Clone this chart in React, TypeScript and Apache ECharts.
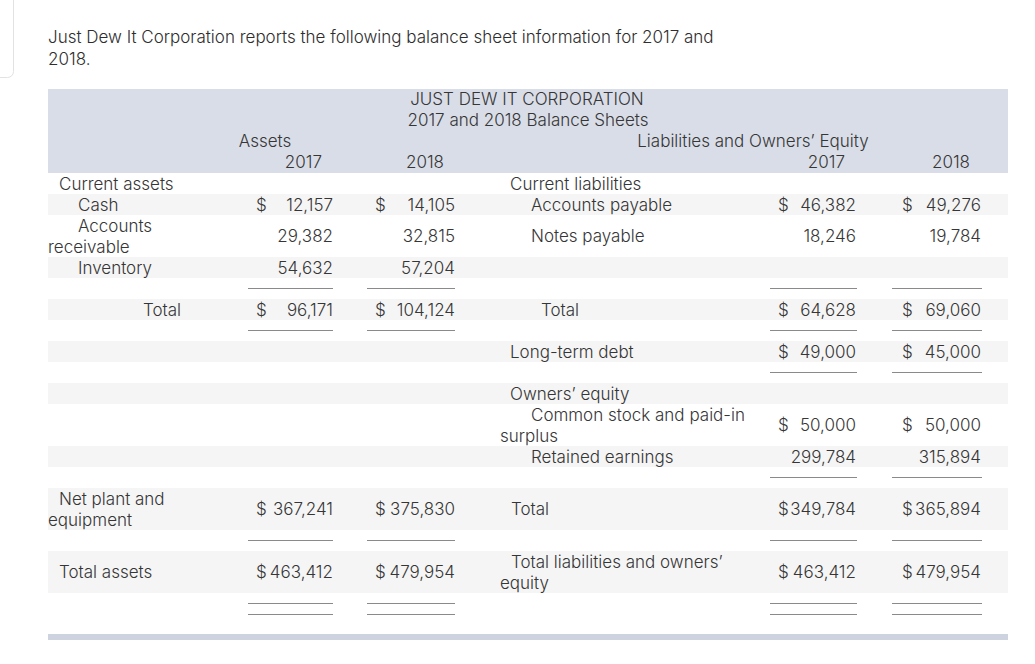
import React, { useEffect, useRef } from "react";
import * as echarts from "echarts";

// ---------- data ----------
const titleLines = [
  "Just Dew It Corporation reports the following balance sheet information for 2017 and",
  "2018.",
];
const headerTitle = ["JUST DEW IT CORPORATION", "2017 and 2018 Balance Sheets"];
const sideHeaders = ["Assets", "Liabilities and Owners\u2019 Equity"];
const years = ["2017", "2018"];

const assetLabels = [
  "Current assets",
  "Cash",
  "Accounts\nreceivable",
  "Inventory",
  "Total",
  "Net plant and\nequipment",
  "Total assets",
];
const assets2017: (number | null)[] = [null, 12157, 29382, 54632, 96171, 367241, 463412];
const assets2018: (number | null)[] = [null, 14105, 32815, 57204, 104124, 375830, 479954];
const assetDollar = [false, true, false, false, true, true, true];

const liabLabels = [
  "Current liabilities",
  "Accounts payable",
  "Notes payable",
  "Total",
  "Long-term debt",
  "Owners\u2019 equity",
  "Common stock and paid-in\nsurplus",
  "Retained earnings",
  "Total",
  "Total liabilities and owners\u2019\nequity",
];
const liab2017: (number | null)[] = [null, 46382, 18246, 64628, 49000, null, 50000, 299784, 349784, 463412];
const liab2018: (number | null)[] = [null, 49276, 19784, 69060, 45000, null, 50000, 315894, 365894, 479954];
const liabDollar = [false, true, false, true, true, false, true, false, true, true];

// ---------- layout (positions only) ----------
const ROWS = [
  { top: 173, h: 21 }, { top: 194, h: 21 }, { top: 215, h: 42 }, { top: 257, h: 21 },
  { top: 278, h: 21 }, { top: 299, h: 21 }, { top: 320, h: 21 }, { top: 341, h: 21 },
  { top: 362, h: 21 }, { top: 383, h: 21 }, { top: 404, h: 42 }, { top: 446, h: 21 },
  { top: 467, h: 21 }, { top: 488, h: 42 }, { top: 530, h: 21 }, { top: 551, h: 42 },
  { top: 593, h: 41 },
];
const assetRowIdx = [0, 1, 2, 3, 5, 13, 15];
const assetIndent = [59, 78, 78, 78, -181, 59, 59]; // negative => right aligned
const liabRowIdx = [0, 1, 2, 5, 7, 9, 10, 11, 13, 15];
const liabIndent = [510, 531, 531, 541, 510, 510, 531, 531, 511, 511];
const assetRuleRows = [4, 6, 14];
const liabRuleRows = [4, 6, 8, 12, 14];
const DOUBLE_Y = [603.5, 614.5];

const COLS = {
  a17: { dollar: 256, right: 333, l0: 248, l1: 333, head: 322 },
  a18: { dollar: 375, right: 455, l0: 367, l1: 455, head: 444 },
  l17: { dollar: 778, right: 856, l0: 770, l1: 857, head: 845 },
  l18: { dollar: 902, right: 981, l0: 892, l1: 982, head: 970 },
};

const FONT = 'Inter, sans-serif';
const FS = 17;
const TXT = "#363636";
const LINE_H = 21;

function txt(text: string, x: number, y: number, align: string, extra: any = {}) {
  return {
    type: "text",
    silent: true,
    style: {
      text,
      x,
      y,
      fill: TXT,
      fontSize: FS,
      fontFamily: FONT,
      fontWeight: 300,
      align,
      textAlign: align,
      verticalAlign: "middle",
      textVerticalAlign: "middle",
      ...extra,
    },
  };
}

function rule(x0: number, x1: number, y: number) {
  return {
    type: "line",
    silent: true,
    shape: { x1: x0, y1: y, x2: x1, y2: y },
    style: { stroke: "#8a8a8a", lineWidth: 1 },
  };
}

function fmt(v: number) {
  return v.toLocaleString("en-US");
}

function buildGraphics() {
  const els: any[] = [];
  // card corner
  els.push({
    type: "rect",
    silent: true,
    shape: { x: -20, y: -20, width: 33.5, height: 97.5, r: 6 },
    style: { fill: "none", stroke: "#e2e2e2", lineWidth: 1 },
  });
  // title
  titleLines.forEach((t, i) => els.push(txt(t, 48, 37 + i * 22, "left", { fill: "#2e2e2e" })));

  // header band
  els.push({
    type: "rect",
    silent: true,
    shape: { x: 48, y: 89, width: 960, height: 84 },
    style: { fill: "#d9dde7" },
  });
  // stripes
  ROWS.forEach((r, i) => {
    if (i % 2 === 1) {
      els.push({
        type: "rect",
        silent: true,
        shape: { x: 48, y: r.top, width: 960, height: r.h },
        style: { fill: "#f5f5f5" },
      });
    }
  });
  // bottom band
  els.push({
    type: "rect",
    silent: true,
    shape: { x: 48, y: 634, width: 960, height: 6 },
    style: { fill: "#cdd4e0" },
  });

  // header texts
  els.push(txt(headerTitle[0], 527, 99, "center"));
  els.push(txt(headerTitle[1], 528, 120, "center"));
  els.push(txt(sideHeaders[0], 265, 141, "center"));
  els.push(txt(sideHeaders[1], 753, 141, "center"));
  els.push(txt(years[0], COLS.a17.head, 162, "right"));
  els.push(txt(years[1], COLS.a18.head, 162, "right"));
  els.push(txt(years[0], COLS.l17.head, 162, "right"));
  els.push(txt(years[1], COLS.l18.head, 162, "right"));

  const label = (lab: string, indent: number, colLeft: number, cy: number) => {
    const parts = lab.split("\n");
    const y0 = cy - ((parts.length - 1) * LINE_H) / 2;
    parts.forEach((p, k) => {
      if (k === 0) {
        if (indent < 0) els.push(txt(p, -indent, y0, "right"));
        else els.push(txt(p, indent, y0, "left"));
      } else {
        els.push(txt(p, colLeft, y0 + k * LINE_H, "left"));
      }
    });
  };
  const value = (v: number | null, dollar: boolean, col: any, cy: number) => {
    if (v === null) return;
    if (dollar) els.push(txt("$", col.dollar, cy, "left"));
    els.push(txt(fmt(v), col.right, cy, "right"));
  };

  assetLabels.forEach((lab, i) => {
    const r = ROWS[assetRowIdx[i]];
    const cy = r.top + r.h / 2;
    label(lab, assetIndent[i], 48, cy);
    value(assets2017[i], assetDollar[i], COLS.a17, cy);
    value(assets2018[i], assetDollar[i], COLS.a18, cy);
  });
  liabLabels.forEach((lab, i) => {
    const r = ROWS[liabRowIdx[i]];
    const cy = r.top + r.h / 2;
    label(lab, liabIndent[i], 500, cy);
    value(liab2017[i], liabDollar[i], COLS.l17, cy);
    value(liab2018[i], liabDollar[i], COLS.l18, cy);
  });

  // rules
  assetRuleRows.forEach((ri) => {
    const y = Math.round(ROWS[ri].top + ROWS[ri].h / 2) - 0.5;
    els.push(rule(COLS.a17.l0, COLS.a17.l1, y));
    els.push(rule(COLS.a18.l0, COLS.a18.l1, y));
  });
  liabRuleRows.forEach((ri) => {
    const y = Math.round(ROWS[ri].top + ROWS[ri].h / 2) - 0.5;
    els.push(rule(COLS.l17.l0, COLS.l17.l1, y));
    els.push(rule(COLS.l18.l0, COLS.l18.l1, y));
  });
  DOUBLE_Y.forEach((y) => {
    [COLS.a17, COLS.a18, COLS.l17, COLS.l18].forEach((c) => els.push(rule(c.l0, c.l1, y)));
  });
  return els;
}

export default function App() {
  const ref = useRef<HTMLDivElement>(null);
  useEffect(() => {
    if (!ref.current) return;
    const chart = echarts.init(ref.current, undefined, { renderer: "svg" });
    chart.setOption({
      animation: false,
      backgroundColor: "#ffffff",
      graphic: { elements: buildGraphics() },
    });
    return () => chart.dispose();
  }, []);
  return (
    <div
      ref={ref}
      style={{ position: "absolute", left: 0, top: 0, width: 1035, height: 664, background: "#fff" }}
    />
  );
}
